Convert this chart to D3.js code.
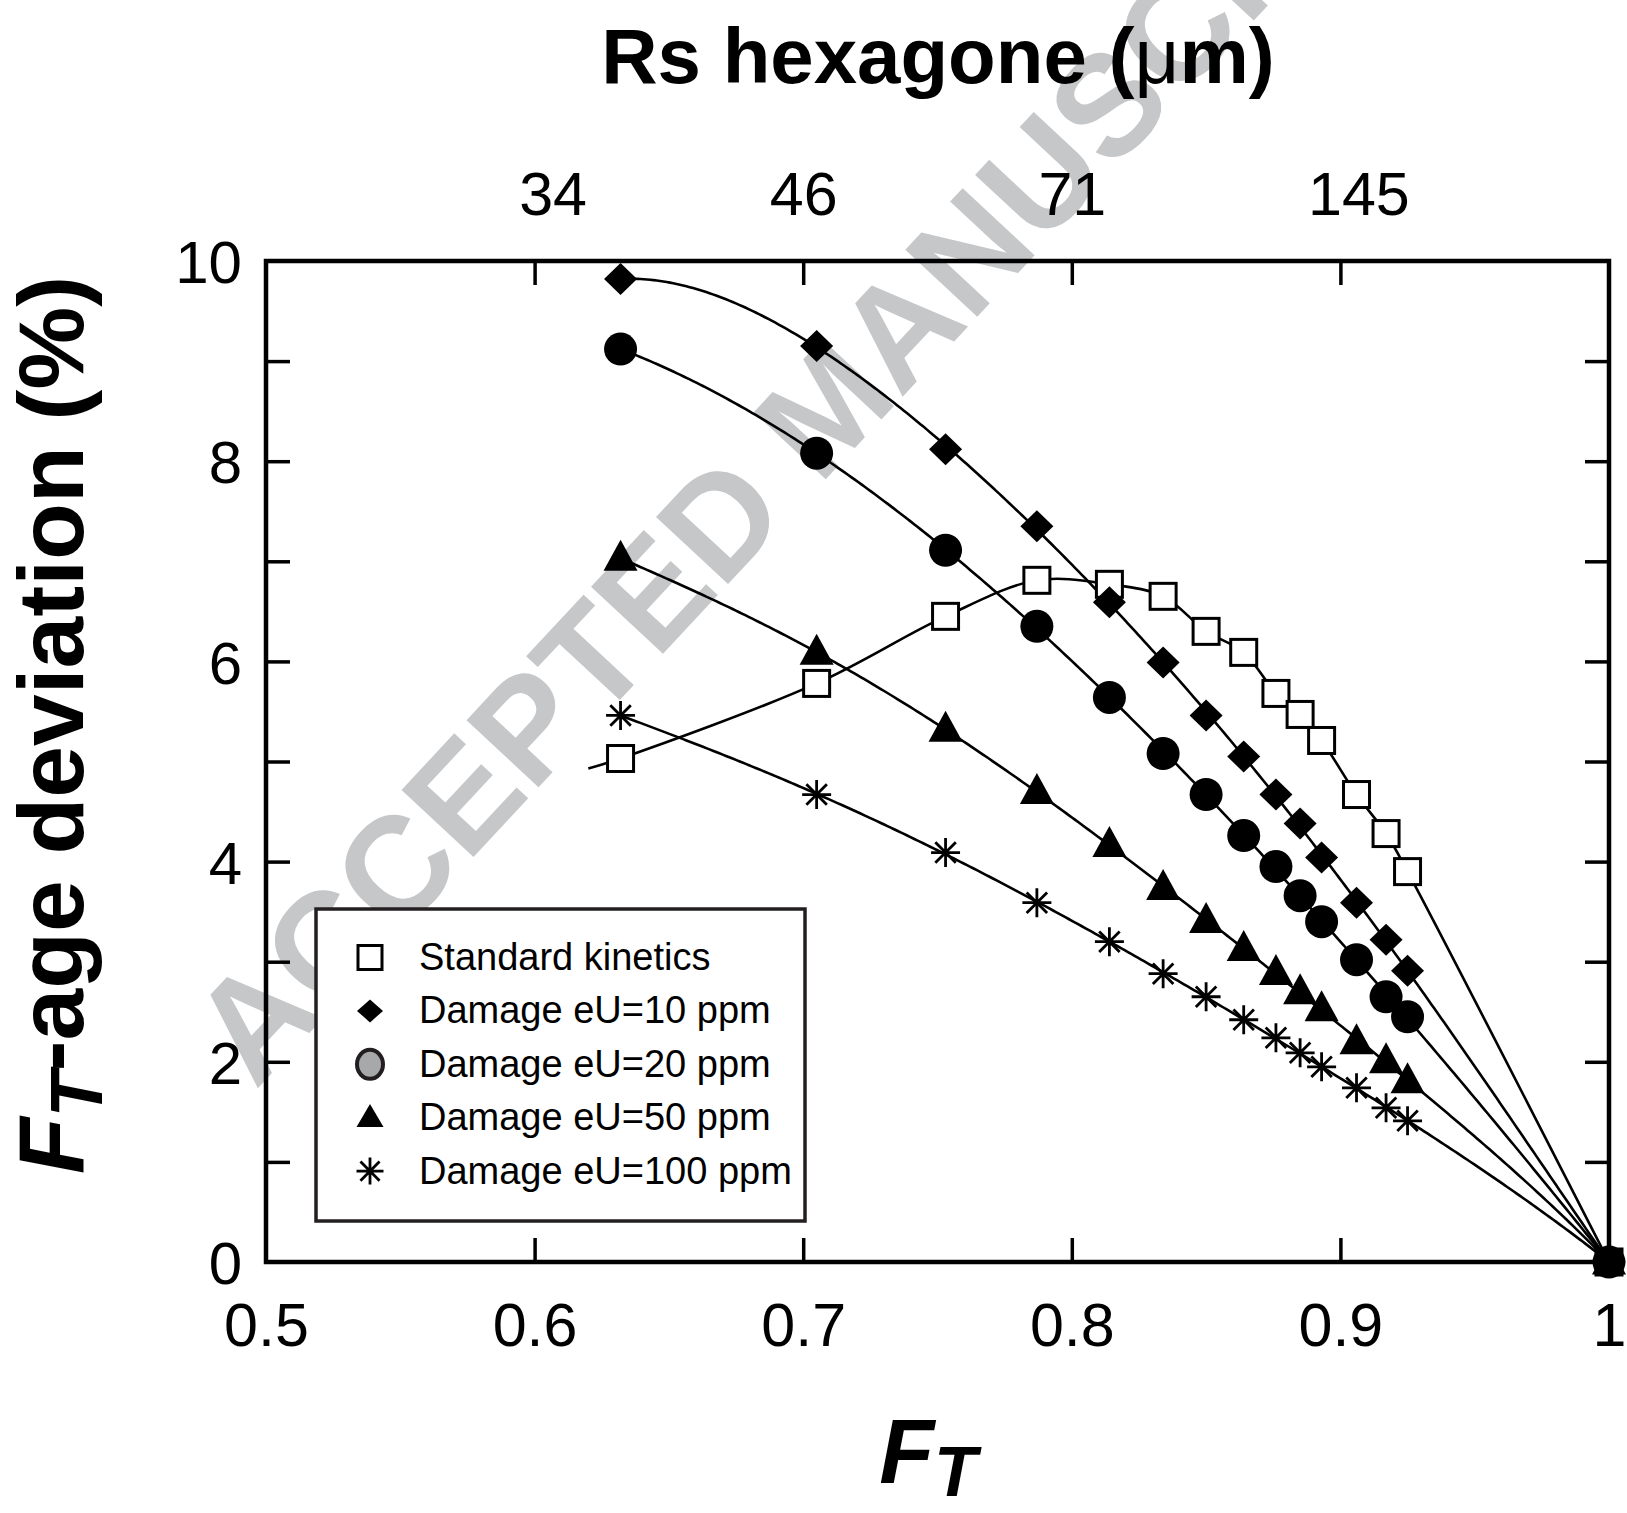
<!DOCTYPE html>
<html>
<head>
<meta charset="utf-8">
<script src="https://cdn.jsdelivr.net/npm/d3@7"></script>
<style>
  html, body { margin: 0; padding: 0; background: #fff; }
  svg { display: block; }
  text { font-family: "Liberation Sans", Arial, Helvetica, sans-serif; }
</style>
</head>
<body>
<svg id="chart" width="1627" height="1513"></svg>
<script>
// ---------------- DATA ----------------
const ftValues   = [0.632, 0.705, 0.753, 0.787, 0.814, 0.834, 0.850, 0.864, 0.876, 0.885, 0.893, 0.906, 0.917, 0.925, 1.0];
const standardKinetics = [5.03, 5.78, 6.45, 6.81, 6.77, 6.65, 6.30, 6.09, 5.68, 5.47, 5.21, 4.67, 4.28, 3.90, 0];
const damageEU10  = [9.82, 9.15, 8.12, 7.35, 6.59, 5.99, 5.46, 5.05, 4.67, 4.38, 4.04, 3.59, 3.22, 2.91, 0];
const damageEU20  = [9.12, 8.08, 7.11, 6.35, 5.64, 5.08, 4.67, 4.26, 3.95, 3.66, 3.40, 3.02, 2.65, 2.45, 0];
const damageEU50  = [7.03, 6.09, 5.32, 4.70, 4.17, 3.74, 3.41, 3.13, 2.89, 2.70, 2.53, 2.20, 2.01, 1.81, 0];
const damageEU100 = [5.46, 4.67, 4.09, 3.59, 3.20, 2.88, 2.65, 2.42, 2.24, 2.09, 1.95, 1.74, 1.54, 1.41, 0];
// the curve of the standard kinetics starts slightly left of its first point
const standardCurveStart = [0.620, 4.93];

const seriesNames = ["Standard kinetics", "Damage eU=10 ppm", "Damage eU=20 ppm", "Damage eU=50 ppm", "Damage eU=100 ppm"];
const seriesSymbols = ["square", "diamond", "circle", "triangle", "star"];

const xTicks = [0.5, 0.6, 0.7, 0.8, 0.9, 1.0];
const xTickLabels = ["0.5", "0.6", "0.7", "0.8", "0.9", "1"];
const yTicks = [0, 1, 2, 3, 4, 5, 6, 7, 8, 9, 10];
const yTickLabels = [0, 2, 4, 6, 8, 10];
const topTicksFT = [0.6, 0.7, 0.8, 0.9];
const topTickLabels = ["34", "46", "71", "145"];

// ---------------- LAYOUT ----------------
const svg = d3.select("#chart");
const L = 266, R = 1609, T = 261, B = 1262;
const x = d3.scaleLinear().domain([0.5, 1.0]).range([L, R]);
const y = d3.scaleLinear().domain([0, 10]).range([B, T]);
const FONT = '"Liberation Sans", Arial, sans-serif';

const seriesValues = [standardKinetics, damageEU10, damageEU20, damageEU50, damageEU100];

// ---------------- WATERMARK ----------------
svg.append("text")
  .attr("transform", "translate(825,405) rotate(-47)")
  .attr("text-anchor", "middle")
  .attr("dy", "0.358em")
  .style("font-size", "143px")
  .style("font-weight", "bold")
  .style("fill", "#c6c7c9")
  .text("ACCEPTED MANUSCRIPT");

// ---------------- AXES ----------------
const tickLen = 24;
const axisG = svg.append("g");

const bottomAxis = d3.axisBottom(x).tickValues(xTicks).tickSizeInner(-tickLen).tickSizeOuter(0)
  .tickFormat((d, i) => xTickLabels[i]);
const gB = axisG.append("g").attr("transform", `translate(0,${B})`).call(bottomAxis);
gB.select(".domain").remove();
gB.selectAll(".tick line").attr("stroke", "#000").attr("stroke-width", 3.5)
  .attr("display", d => (d === 0.5 || d === 1.0) ? "none" : null);
gB.selectAll(".tick text").attr("y", 84).attr("dy", 0)
  .style("font-size", "61px").style("fill", "#000").style("font-family", FONT);

const topLabelShift = [18, 0, 0, 18];
const topAxis = d3.axisTop(x).tickValues(topTicksFT).tickSizeInner(-tickLen).tickSizeOuter(0)
  .tickFormat((d, i) => topTickLabels[i]);
const gT = axisG.append("g").attr("transform", `translate(0,${T})`).call(topAxis);
gT.select(".domain").remove();
gT.selectAll(".tick line").attr("stroke", "#000").attr("stroke-width", 3.5);
gT.selectAll(".tick text").attr("y", -46).attr("dy", 0).attr("x", (d, i) => topLabelShift[i])
  .style("font-size", "61px").style("fill", "#000").style("font-family", FONT);

const leftAxis = d3.axisLeft(y).tickValues(yTicks).tickSizeInner(-tickLen).tickSizeOuter(0)
  .tickFormat(d => yTickLabels.includes(d) ? String(d) : "");
const gL = axisG.append("g").attr("transform", `translate(${L},0)`).call(leftAxis);
gL.select(".domain").remove();
gL.selectAll(".tick line").attr("stroke", "#000").attr("stroke-width", 3.5)
  .attr("display", d => (d === 0 || d === 10) ? "none" : null);
gL.selectAll(".tick text").attr("x", -24).attr("dy", "0.36em")
  .style("font-size", "60px").style("fill", "#000").style("font-family", FONT);

const rightAxis = d3.axisRight(y).tickValues(yTicks).tickSizeInner(-tickLen).tickSizeOuter(0).tickFormat("");
const gR = axisG.append("g").attr("transform", `translate(${R},0)`).call(rightAxis);
gR.select(".domain").remove();
gR.selectAll(".tick line").attr("stroke", "#000").attr("stroke-width", 3.5)
  .attr("display", d => (d === 0 || d === 10) ? "none" : null);

svg.append("rect").attr("x", L).attr("y", T).attr("width", R - L).attr("height", B - T)
  .attr("fill", "none").attr("stroke", "#000").attr("stroke-width", 4.5);

// ---------------- CURVES ----------------
// damage series: weighted least-squares polynomial fit; standard kinetics: smooth spline through points
function polyFit(xs, ys, deg, ws) {
  const n = deg + 1;
  const A = Array.from({ length: n }, () => new Array(n + 1).fill(0));
  xs.forEach((xv, k) => {
    const t = (xv - 0.8) / 0.2, w = ws[k];
    const pw = [];
    for (let i = 0; i < 2 * n; i++) pw.push(Math.pow(t, i));
    for (let i = 0; i < n; i++) {
      for (let j = 0; j < n; j++) A[i][j] += w * pw[i + j];
      A[i][n] += w * pw[i] * ys[k];
    }
  });
  for (let c = 0; c < n; c++) {
    let p = c;
    for (let r = c + 1; r < n; r++) if (Math.abs(A[r][c]) > Math.abs(A[p][c])) p = r;
    [A[c], A[p]] = [A[p], A[c]];
    for (let r = 0; r < n; r++) {
      if (r === c) continue;
      const f = A[r][c] / A[c][c];
      for (let j = c; j <= n; j++) A[r][j] -= f * A[c][j];
    }
  }
  const coef = A.map((row, i) => row[n] / row[i]);
  return xv => { const t = (xv - 0.8) / 0.2; let s = 0; for (let i = n - 1; i >= 0; i--) s = s * t + coef[i]; return s; };
}

const straight = d3.line().x(d => x(d[0])).y(d => y(d[1]));
const spline = d3.line().x(d => x(d[0])).y(d => y(d[1])).curve(d3.curveCatmullRom.alpha(0.5));
const curvesG = svg.append("g");
seriesValues.forEach((vals, si) => {
  const pts = ftValues.map((f, i) => [f, vals[i]]);
  let d;
  if (si === 0) {
    d = spline([standardCurveStart].concat(pts));
  } else {
    const weights = ftValues.map(f => f === 1.0 ? 200 : 1);
    const fit = polyFit(ftValues, vals, 5, weights);
    const f0 = ftValues[0];
    const samples = d3.range(0, 301).map(k => { const f = f0 + (1.0 - f0) * k / 300; return [f, fit(f)]; });
    d = straight(samples);
  }
  curvesG.append("path").attr("d", d)
    .attr("fill", "none").attr("stroke", "#000").attr("stroke-width", 2.6);
});

// ---------------- MARKERS ----------------
function drawSymbol(g, type, cx, cy, s, legend) {
  if (type === "square") {
    const h = s.sq;
    g.append("rect").attr("x", cx - h / 2).attr("y", cy - h / 2).attr("width", h).attr("height", h)
      .attr("fill", "#fff").attr("stroke", "#000").attr("stroke-width", 3);
  } else if (type === "diamond") {
    const w = s.dw / 2, h = s.dh / 2;
    g.append("path").attr("d", `M${cx},${cy - h}L${cx + w},${cy}L${cx},${cy + h}L${cx - w},${cy}Z`).attr("fill", "#000");
  } else if (type === "circle") {
    if (legend) {
      g.append("ellipse").attr("cx", cx).attr("cy", cy).attr("rx", s.cw / 2 - 2).attr("ry", s.ch / 2 - 2)
        .attr("fill", "#a7a8aa").attr("stroke", "#231f20").attr("stroke-width", 4);
    } else {
      g.append("ellipse").attr("cx", cx).attr("cy", cy).attr("rx", s.cw / 2).attr("ry", s.ch / 2).attr("fill", "#000");
    }
  } else if (type === "triangle") {
    const w = s.tw / 2, up = s.th * 0.6, dn = s.th * 0.4;
    g.append("path").attr("d", `M${cx},${cy - up}L${cx + w},${cy + dn}L${cx - w},${cy + dn}Z`).attr("fill", "#000");
  } else if (type === "star") {
    const r = s.st / 2, d = r * Math.SQRT1_2;
    g.append("path")
      .attr("d", `M${cx},${cy - r}V${cy + r}M${cx - r},${cy}H${cx + r}M${cx - d},${cy - d}L${cx + d},${cy + d}M${cx - d},${cy + d}L${cx + d},${cy - d}`)
      .attr("stroke", "#000").attr("stroke-width", 2.8).attr("fill", "none");
  }
}
const plotSizes = { sq: 26, dw: 33, dh: 32, cw: 33, ch: 33, tw: 34, th: 31, st: 29 };
const legendSizes = { sq: 24, dw: 26, dh: 23, cw: 30, ch: 33, tw: 27, th: 23, st: 27 };

const markersG = svg.append("g");
seriesValues.forEach((vals, si) => {
  ftValues.forEach((f, i) => {
    drawSymbol(markersG, seriesSymbols[si], x(f), y(vals[i]), plotSizes, false);
  });
});

// ---------------- LEGEND ----------------
const lg = svg.append("g");
lg.append("rect").attr("x", 316).attr("y", 909).attr("width", 489).attr("height", 312)
  .attr("fill", "#fff").attr("stroke", "#231f20").attr("stroke-width", 3.5);
seriesNames.forEach((name, i) => {
  const base = 970 + i * 53.4;
  drawSymbol(lg, seriesSymbols[i], 370, base - 12.5, legendSizes, true);
  lg.append("text").attr("x", 419).attr("y", base)
    .style("font-size", "38px").style("fill", "#000").text(name);
});

// ---------------- TITLES ----------------
const tt = svg.append("text").attr("x", 938).attr("y", 83).attr("text-anchor", "middle")
  .style("font-size", "78px").style("font-weight", "bold").style("fill", "#000");
tt.append("tspan").text("Rs hexagone (");
tt.append("tspan").style("font-weight", "normal").text("\u03bc");
tt.append("tspan").text("m)");

const xt = svg.append("text").attr("x", 928).attr("y", 1483).attr("text-anchor", "middle")
  .style("font-weight", "bold").style("font-style", "italic").style("fill", "#000");
xt.append("tspan").style("font-size", "90px").text("F");
xt.append("tspan").style("font-size", "70px").attr("dy", 13).text("T");

const yt = svg.append("text").attr("transform", "translate(83,725) rotate(-90)")
  .attr("text-anchor", "middle").style("font-weight", "bold").style("font-size", "93px").style("fill", "#000");
yt.append("tspan").style("font-style", "italic").text("F");
yt.append("tspan").style("font-style", "italic").style("font-size", "75px").attr("dy", 19).text("T");
yt.append("tspan").attr("dy", -19).text("-age deviation (%)");
</script>
</body>
</html>
